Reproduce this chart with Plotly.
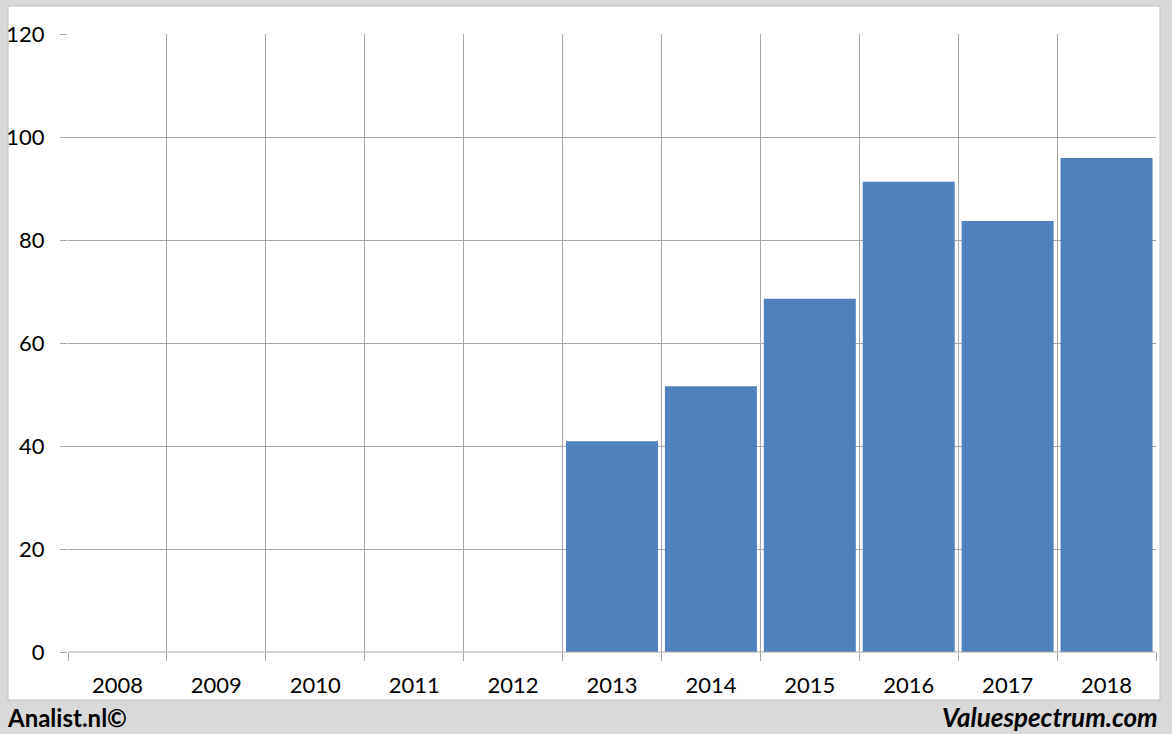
import plotly.graph_objects as go

years = ["2008", "2009", "2010", "2011", "2012", "2013", "2014", "2015", "2016", "2017", "2018"]
values = [None, None, None, None, None, 40.9, 51.6, 68.6, 91.3, 83.7, 95.9]
y_ticks = [0, 20, 40, 60, 80, 100, 120]

W, H = 1172, 734
L, R, T, B = 68, 16, 34, 82
pw, ph = W - L - R, H - T - B

def px(x):
    return (x - L) / pw

def py(y):
    return (H - B - y) / ph

idx = list(range(len(years)))
grid_col = "#a6a6a6"
font_fam = "Lato, 'Open Sans', sans-serif"

fig = go.Figure()
fig.add_trace(go.Bar(x=idx, y=values, marker=dict(color="#4f81bd", line=dict(width=0)),
                     width=0.93, hoverinfo="y"))
# dummy trace on secondary x axis for category boundary grid lines
fig.add_trace(go.Scatter(x=[-0.5, len(years) - 0.5], y=[None, None], xaxis="x2",
                         mode="markers", showlegend=False, hoverinfo="skip"))

bounds = [i - 0.5 for i in range(len(years) + 1)]

fig.update_layout(
    width=W, height=H,
    margin=dict(l=L, r=R, t=T, b=B, autoexpand=False),
    paper_bgcolor="#d9d9d9",
    plot_bgcolor="white",
    showlegend=False,
    bargap=0.07,
    font=dict(family=font_fam, size=22, color="#000000"),
    xaxis=dict(range=[-0.5, len(years) - 0.5], tickvals=idx, ticktext=years,
               showgrid=False, zeroline=False, ticks="", showline=False, automargin=False,
               tickfont=dict(size=22, family=font_fam), ticklabelstandoff=18),
    xaxis2=dict(range=[-0.5, len(years) - 0.5], overlaying="x", side="bottom",
                tickvals=bounds, ticktext=[""] * len(bounds), showgrid=True, automargin=False,
                gridcolor=grid_col, gridwidth=1, ticks="outside", ticklen=8,
                tickcolor=grid_col, zeroline=False, showline=False),
    yaxis=dict(range=[0, 120], tickvals=y_ticks, showgrid=True, gridcolor=grid_col,
               gridwidth=1, zeroline=False, ticks="outside", ticklen=7, automargin=False,
               tickcolor=grid_col, showline=False, ticklabelstandoff=11,
               tickfont=dict(size=22, family=font_fam)),
    shapes=[
        dict(type="rect", xref="paper", yref="paper", x0=px(8), x1=px(1160),
             y0=py(700), y1=py(6), fillcolor="white", line=dict(color="#bfbfbf", width=1),
             layer="below"),
        dict(type="line", xref="paper", yref="paper", x0=0, x1=1, y0=0, y1=0,
             line=dict(color=grid_col, width=1), layer="above"),
    ],
    annotations=[
        dict(text="<b>Analist.nl©</b>", xref="paper", yref="paper", x=px(5), y=py(717),
             xanchor="left", yanchor="middle", showarrow=False,
             font=dict(size=24, family=font_fam, color="#000000")),
        dict(text="<b><i>Valuespectrum.com</i></b>", xref="paper", yref="paper",
             x=px(1160), y=py(717), xanchor="right", yanchor="middle", showarrow=False,
             font=dict(size=26, family=font_fam, color="#000000")),
    ],
)

fig.write_html("out.html", config={"displayModeBar": False},
               post_script="document.body.style.margin='0';document.body.style.padding='0';document.body.style.overflow='hidden';")
